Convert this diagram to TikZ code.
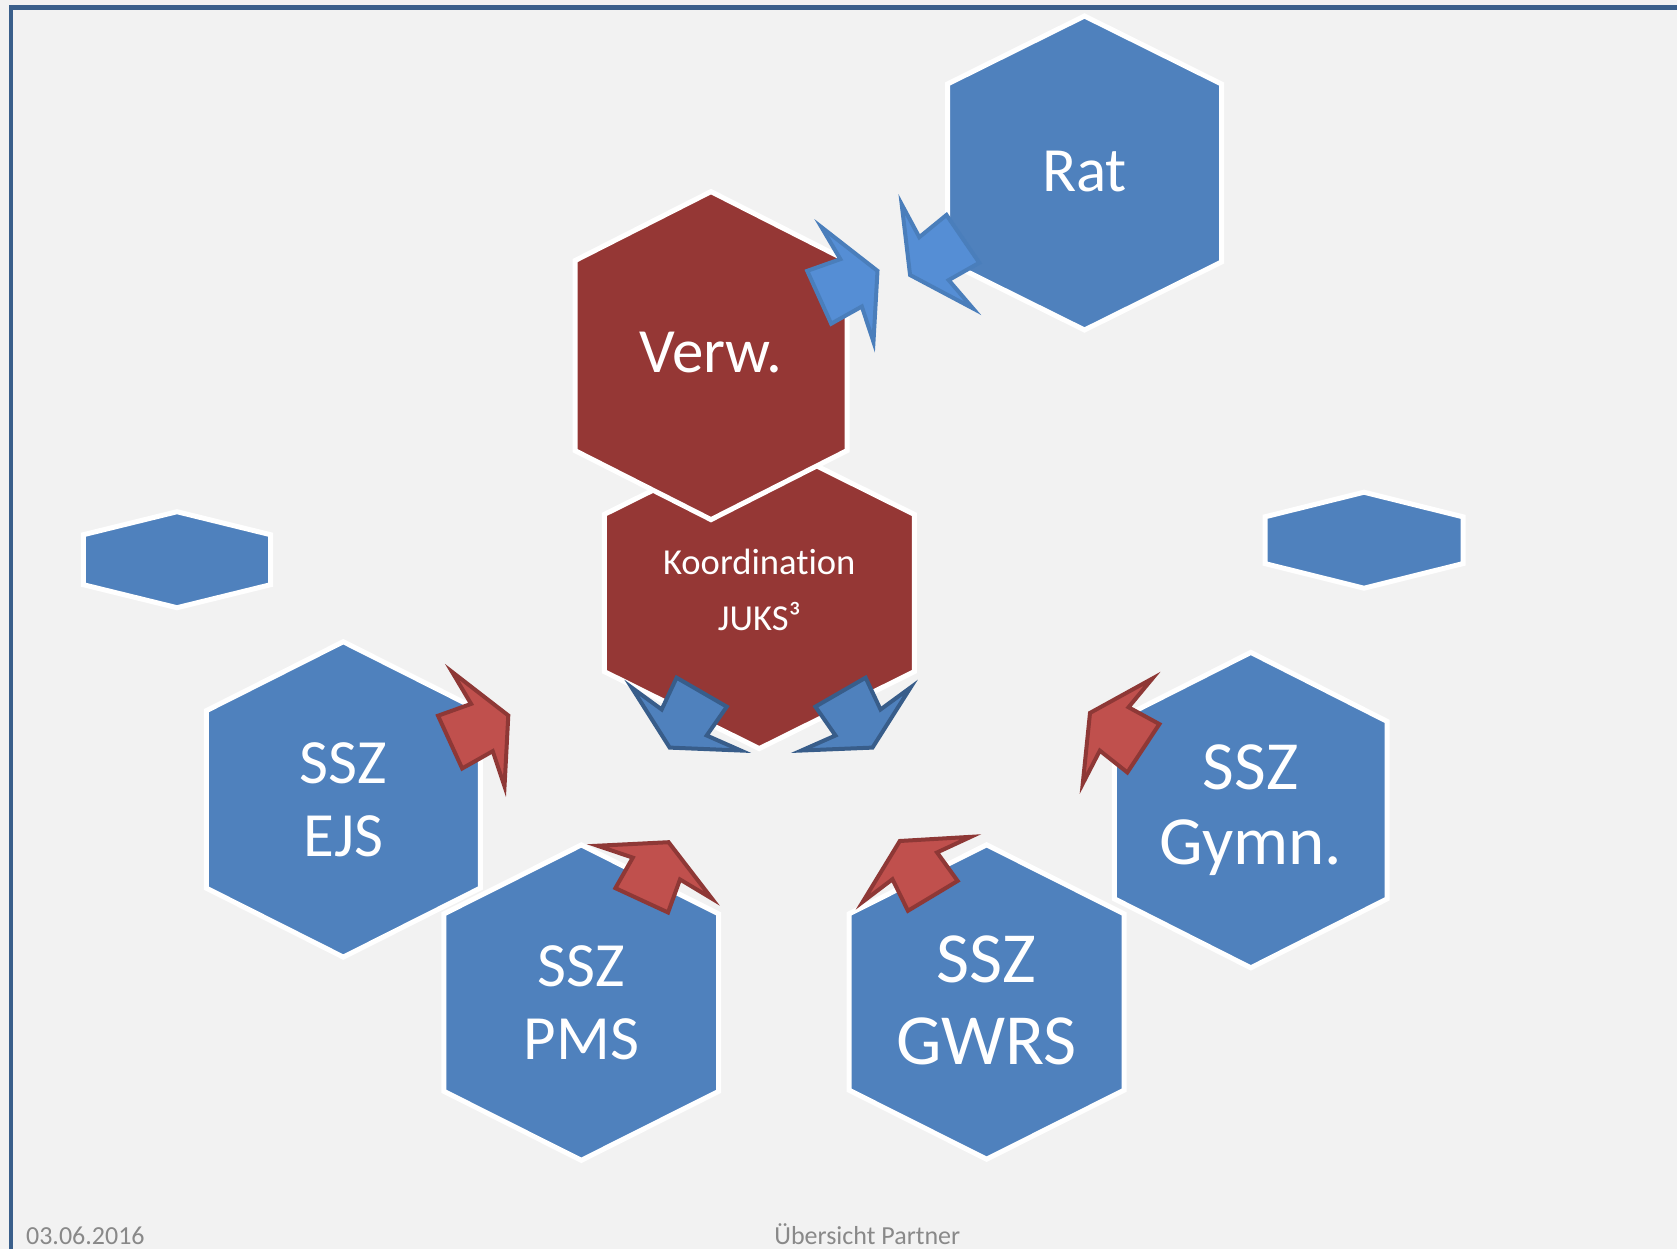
\documentclass[tikz,border=0pt]{standalone}
\usepackage{fontspec}
\setmainfont{Carlito}[Ligatures=NoCommon]
\usepackage{xcolor}
\usepackage{tikz}
\definecolor{slideBg}{HTML}{F2F2F2}
\definecolor{frameLine}{HTML}{3A5F8B}
\definecolor{hexBlue}{HTML}{4F81BD}
\definecolor{hexRed}{HTML}{953735}
\definecolor{arrowRed}{HTML}{C0504D}
\definecolor{arrowRedLine}{HTML}{8E3836}
\definecolor{arrowBlue}{HTML}{4F81BD}
\definecolor{arrowBlueLine}{HTML}{385D8A}
\definecolor{arrowSky}{HTML}{558ED5}
\definecolor{arrowSkyLine}{HTML}{4A7EBB}
\definecolor{footGray}{HTML}{898989}

\tikzset{
  blockarrow/.pic={
    \path[pic actions] (1,-29) -- (36,-26) -- (32,-63) -- (65,0) -- (32,63) -- (36,26) -- (1,29) -- cycle;
  }
}
% hexagon: centre, half width, half height, corner drop, style
\newcommand{\hexcell}[5]{%
  \path[#5, shift={#1}] (0,-#3) -- (#2,-#3+#4) -- (#2,#3-#4) -- (0,#3)
    -- (-#2,#3-#4) -- (-#2,-#3+#4) -- cycle;}

\begin{document}
\begin{tikzpicture}[
  x=0.5pt, y=-0.5pt,
  hex blue/.style={fill=hexBlue, draw=white, line width=2.5pt},
  hex red/.style={fill=hexRed, draw=white, line width=2.5pt},
  cell text/.style={text=white, align=center, font=\fontsize{31.5}{36.4}\selectfont},
  red arrow/.style={fill=arrowRed, draw=arrowRedLine, line width=2pt},
  blue arrow/.style={fill=arrowBlue, draw=arrowBlueLine, line width=2pt},
  sky arrow/.style={fill=arrowSky, draw=arrowSkyLine, line width=2pt},
  footer/.style={text=footGray, anchor=base west, inner sep=0pt, font=\fontsize{13}{15}\selectfont}
]
\useasboundingbox (0,0) rectangle (1677,1249);
\fill[slideBg] (0,0) rectangle (1677,1249);
\draw[frameLine, line width=2.3pt] (11,1249) -- (11,7.5) -- (1677,7.5);

% small cells
\hexcell{(177,559.7)}{93.6}{48}{23}{hex blue}
\hexcell{(1364,540.2)}{99}{48}{24.6}{hex blue}

% top group
\hexcell{(1084.5,173)}{137}{157}{68}{hex blue}
\hexcell{(759.3,593)}{155}{155.6}{77}{hex red}
\hexcell{(711,355.6)}{136}{164}{69}{hex red}

% schools
\hexcell{(343.3,799.4)}{137}{157.7}{69}{hex blue}
\hexcell{(581.3,1002.6)}{137.4}{157.7}{69}{hex blue}
\hexcell{(1250.8,810.1)}{136.4}{157.7}{69}{hex blue}
\hexcell{(986.6,1002)}{137.4}{157.2}{69}{hex blue}

\node[cell text] (rat) at (1084.5,172) {Rat};
\node[cell text] (verw) at (711,353) {Verw.};
\node[cell text, font=\fontsize{18.3}{28.4}\selectfont] (juks) at (759.3,590) {Koordination\\JUKS³};
\node[cell text] (ejs) at (343.3,799.4) {SSZ\\EJS};
\node[cell text] (pms) at (581.3,1002.6) {SSZ\\PMS};
\node[cell text, font=\fontsize{34.5}{37.5}\selectfont] (gymn) at (1250.8,810.1) {SSZ\\Gymn.};
\node[cell text, font=\fontsize{36}{41}\selectfont] (gwrs) at (986.6,1000) {SSZ\\GWRS};

% arrows
\pic[sky arrow, rotate=24.4] at (818.3,297.7) {blockarrow};
\pic[sky arrow, rotate=-145.6] at (963.7,238.3) {blockarrow};
\foreach \px/\ang in {702.2/-120, 840/-60}
  \pic[blue arrow, rotate=\ang] at (\px,691.3) {blockarrow};
\foreach \px/\py/\ang in {449.2/742.5/24.6, 641.3/901.2/65.2, 933.3/896.7/121, 1144.2/748.8/146.5}
  \pic[red arrow, rotate=\ang] at (\px,\py) {blockarrow};

\node[footer] (date) at (25.7,1244) {03.06.2016};
\node[footer] (title) at (774,1244) {Übersicht Partner};
\end{tikzpicture}
\end{document}
